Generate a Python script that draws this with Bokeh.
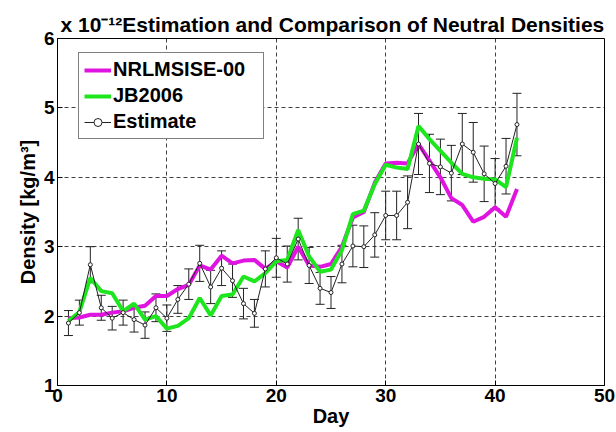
from bokeh.plotting import figure
from bokeh.models import (ColumnDataSource, Whisker, TeeHead, Legend, LegendItem,
                          FixedTicker, Range1d, Title)
from bokeh.embed import file_html
from bokeh.resources import INLINE

# ---- data (densities in units of 1e-12 kg/m^3) ----
days = list(range(1, 43))
nrlmsise = [1.97, 1.98, 2.02, 2.02, 2.05, 2.07, 2.12, 2.15, 2.29, 2.29,
            2.39, 2.45, 2.73, 2.67, 2.87, 2.76, 2.80, 2.81, 2.68, 2.79,
            2.70, 3.00, 2.73, 2.71, 2.75, 3.00, 3.42, 3.50, 3.92, 4.20,
            4.21, 4.20, 4.48, 4.24, 4.00, 3.70, 3.60, 3.36, 3.43, 3.57,
            3.43, 3.83]
jb2006 = [1.93, 2.06, 2.55, 2.36, 2.33, 2.07, 2.18, 1.95, 2.00, 1.82,
          1.86, 1.97, 2.26, 2.01, 2.29, 2.31, 2.57, 2.50, 2.62, 2.79,
          2.81, 3.24, 2.86, 2.64, 2.67, 2.95, 3.47, 3.52, 3.90, 4.18,
          4.14, 4.12, 4.74, 4.55, 4.38, 4.21, 4.05, 4.00, 3.98, 3.97,
          3.86, 4.57]
estimate = [1.90, 2.05, 2.74, 2.12, 1.97, 2.05, 1.95, 1.87, 2.12, 1.97,
            2.24, 2.46, 2.76, 2.42, 2.69, 2.51, 2.18, 2.04, 2.68, 2.84,
            2.75, 3.11, 2.73, 2.40, 2.34, 2.75, 3.01, 3.00, 3.17, 3.45,
            3.45, 3.64, 4.48, 4.20, 4.15, 4.06, 4.48, 4.36, 4.05, 3.91,
            4.16, 4.76]
est_err = [0.18, 0.18, 0.26, 0.18, 0.17, 0.18, 0.18, 0.19, 0.20, 0.19,
           0.20, 0.22, 0.26, 0.24, 0.25, 0.24, 0.22, 0.20, 0.26, 0.28,
           0.26, 0.30, 0.26, 0.23, 0.23, 0.27, 0.30, 0.30, 0.32, 0.35,
           0.35, 0.38, 0.44, 0.42, 0.40, 0.40, 0.44, 0.43, 0.40, 0.36,
           0.40, 0.45]
x_ticks = [0, 10, 20, 30, 40, 50]
y_ticks = [1, 2, 3, 4, 5, 6]
title_text = "x 10\u207b\u00b9\u00b2Estimation and Comparison of Neutral Densities"
x_label = "Day"
y_label = "Density [kg/m\u00b3]"

FONT = "Liberation Sans"

src = ColumnDataSource(dict(
    day=days, nrl=nrlmsise, jb=jb2006, est=estimate,
    upper=[e + d for e, d in zip(estimate, est_err)],
    lower=[e - d for e, d in zip(estimate, est_err)],
))

p = figure(width=616, height=432, output_backend="svg", toolbar_location=None,
           x_range=Range1d(0, 50), y_range=Range1d(1, 6),
           min_border_left=57, min_border_right=12, min_border_top=38, min_border_bottom=47)
p.background_fill_color = "white"
p.border_fill_color = "white"
p.outline_line_color = "black"
p.outline_line_width = 1

p.title = Title(text=title_text, align="left", offset=3, standoff=5,
                text_font=FONT, text_font_style="bold", text_font_size="21px",
                text_color="black")

# axes
for ax, ticks in ((p.xaxis[0], x_ticks), (p.yaxis[0], y_ticks)):
    ax.ticker = FixedTicker(ticks=ticks)
    ax.axis_line_color = "black"
    ax.major_tick_in = 5
    ax.major_tick_out = 0
    ax.minor_tick_line_color = None
    ax.major_label_text_font = FONT
    ax.major_label_text_font_style = "bold"
    ax.major_label_text_font_size = "19px"
    ax.major_label_text_color = "black"
    ax.axis_label_text_font = FONT
    ax.axis_label_text_font_style = "bold"
    ax.axis_label_text_font_size = "20px"
    ax.axis_label_text_color = "black"
p.xaxis.major_label_standoff = 3
p.yaxis.major_label_standoff = 3
p.xaxis.axis_label = x_label
p.yaxis.axis_label = y_label
p.xaxis.axis_label_standoff = 0
p.yaxis.axis_label_standoff = 2

# grid
for g in (p.xgrid[0], p.ygrid[0]):
    g.grid_line_color = "black"
    g.grid_line_dash = "4 3"
    g.grid_line_alpha = 0.75
    g.grid_line_width = 1
p.xgrid.ticker = FixedTicker(ticks=x_ticks[1:-1])
p.ygrid.ticker = FixedTicker(ticks=y_ticks[1:-1])

# series
r_nrl = p.line("day", "nrl", source=src, line_color="#e014e0", line_width=4)
r_jb = p.line("day", "jb", source=src, line_color="#1ee61e", line_width=4)
wh = Whisker(source=src, base="day", upper="upper", lower="lower",
             line_color="#222222", line_width=1,
             upper_head=TeeHead(size=9, line_color="#222222", line_width=1),
             lower_head=TeeHead(size=9, line_color="#222222", line_width=1))
p.add_layout(wh)
r_est = p.line("day", "est", source=src, line_color="#222222", line_width=1)
r_estm = p.scatter("day", "est", source=src, marker="circle", size=4,
                   line_color="#222222", fill_color="white", line_width=1)

legend = Legend(items=[
    LegendItem(label="NRLMSISE-00", renderers=[r_nrl]),
    LegendItem(label="JB2006", renderers=[r_jb]),
    LegendItem(label="Estimate", renderers=[r_est, r_estm]),
], location=(21, 246))
legend.label_text_font = FONT
legend.label_text_font_style = "bold"
legend.label_text_font_size = "20px"
legend.label_text_color = "black"
legend.label_height = 20
legend.label_width = 145
legend.glyph_height = 20
legend.glyph_width = 27
legend.label_standoff = 2
legend.spacing = 3
legend.padding = 5
legend.margin = 0
legend.border_line_color = "black"
legend.border_line_width = 1
legend.background_fill_color = "white"
legend.background_fill_alpha = 1.0
p.add_layout(legend)

open("out.html", "w").write(file_html(p, INLINE))
